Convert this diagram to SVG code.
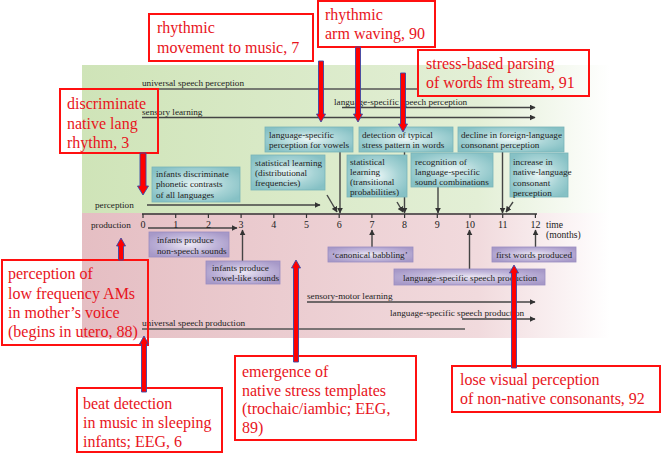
<svg xmlns="http://www.w3.org/2000/svg" width="662" height="455" viewBox="0 0 662 455">
<defs>
<linearGradient id="gGreen" x1="82" y1="0" x2="610" y2="0" gradientUnits="userSpaceOnUse">
<stop offset="0" stop-color="#cfe4b8"/><stop offset="0.75" stop-color="#e3efd6"/><stop offset="1" stop-color="#ffffff"/>
</linearGradient>
<linearGradient id="gPink" x1="82" y1="0" x2="610" y2="0" gradientUnits="userSpaceOnUse">
<stop offset="0" stop-color="#e5bec3"/><stop offset="0.75" stop-color="#f1dadd"/><stop offset="1" stop-color="#ffffff"/>
</linearGradient>
<radialGradient id="gTeal" cx="0.5" cy="0.5" r="0.6">
<stop offset="0" stop-color="#e9f5f5"/><stop offset="0.6" stop-color="#a6d3d5"/><stop offset="1" stop-color="#86c1c5"/>
</radialGradient>
<radialGradient id="gPurple" cx="0.5" cy="0.5" r="0.6">
<stop offset="0" stop-color="#ece7f4"/><stop offset="0.6" stop-color="#bdb2d8"/><stop offset="1" stop-color="#a799c8"/>
</radialGradient>
<marker id="ah" viewBox="0 0 10 10" refX="9" refY="5" markerWidth="6" markerHeight="6" markerUnits="userSpaceOnUse" orient="auto">
<path d="M0,0 L10,5 L0,10 z" fill="#333"/>
</marker>
<style>
.t{font-family:"Liberation Serif","Times New Roman",serif;font-size:9.2px;fill:#222}
.n{font-family:"Liberation Serif","Times New Roman",serif;font-size:10px;fill:#222;text-anchor:middle}
.r{font-family:"Liberation Serif","Times New Roman",serif;font-size:16px;fill:#e8141c}
.rb{fill:none;stroke:#ff1010;stroke-width:2}
.teal{fill:url(#gTeal);stroke:#79b3b8;stroke-width:0.8}
.pur{fill:url(#gPurple);stroke:#9a8cc0;stroke-width:0.8}
.ln{stroke:#555;stroke-width:1.6;fill:none}
.la{stroke:#444;stroke-width:1.4;fill:none;marker-end:url(#ah)}
.ra{fill:#ff0000;stroke:#3848a8;stroke-width:0.9}
</style>
</defs>

<g id="panel">
<rect x="82" y="65" width="528" height="148" fill="url(#gGreen)"/>
<rect x="82" y="213" width="528" height="125" fill="url(#gPink)"/>
</g>

<g id="connectors">
<!-- perception lines -->
<line class="ln" x1="142" y1="89" x2="418" y2="89"/>
<line class="la" x1="342" y1="107.5" x2="535" y2="107.5"/>
<line class="la" x1="142" y1="117.5" x2="535" y2="117.5"/>
<line class="la" x1="147" y1="205" x2="320" y2="205"/>
<!-- axis -->
<line x1="142" y1="214" x2="537" y2="214" stroke="#333" stroke-width="1.6"/>
<g stroke="#333" stroke-width="1.2">
<line x1="143" y1="214" x2="143" y2="218"/><line x1="175.7" y1="214" x2="175.7" y2="218"/>
<line x1="208.4" y1="214" x2="208.4" y2="218"/><line x1="241.1" y1="214" x2="241.1" y2="218"/>
<line x1="273.8" y1="214" x2="273.8" y2="218"/><line x1="306.5" y1="214" x2="306.5" y2="218"/>
<line x1="339.2" y1="214" x2="339.2" y2="218"/><line x1="371.9" y1="214" x2="371.9" y2="218"/>
<line x1="404.6" y1="214" x2="404.6" y2="218"/><line x1="437.3" y1="214" x2="437.3" y2="218"/>
<line x1="470" y1="214" x2="470" y2="218"/><line x1="502.7" y1="214" x2="502.7" y2="218"/>
<line x1="535.4" y1="214" x2="535.4" y2="218"/>
</g>
<!-- box to axis arrows -->
<line class="la" x1="340" y1="152" x2="340" y2="213"/>
<line class="la" x1="327" y1="195" x2="337" y2="212"/>
<line class="la" x1="404.5" y1="152" x2="404.5" y2="213"/>
<line class="la" x1="397" y1="202" x2="403" y2="212"/>
<line class="la" x1="438" y1="187" x2="438" y2="213"/>
<line class="la" x1="502.5" y1="152" x2="502.5" y2="213"/>
<line class="la" x1="513" y1="202" x2="506" y2="212"/>
<!-- production -->
<line class="la" x1="148" y1="228" x2="237" y2="228"/>
<line class="la" x1="242.5" y1="261" x2="242.5" y2="230"/>
<line class="la" x1="372" y1="247" x2="372" y2="230"/>
<line class="la" x1="469.5" y1="269" x2="469.5" y2="230"/>
<line class="la" x1="535.5" y1="247" x2="535.5" y2="230"/>
<line class="la" x1="307" y1="302" x2="535" y2="302"/>
<line class="la" x1="462" y1="319" x2="535" y2="319"/>
<line class="ln" x1="142" y1="329" x2="465" y2="329"/>
</g>

<g id="labels">
<text class="t" x="142" y="85.5">universal speech perception</text>
<text class="t" x="334" y="104.5">language-specific speech perception</text>
<text class="t" x="142" y="114.5">sensory learning</text>
<text class="t" x="95" y="207.5">perception</text>
<text class="t" x="91" y="227.5">production</text>
<text class="t" x="307" y="298.5">sensory-motor learning</text>
<text class="t" x="390" y="316">language-specific speech production</text>
<text class="t" x="142" y="325.5">universal speech production</text>
<text class="t" x="546" y="227.5" style="font-size:9.6px">time</text>
<text class="t" x="546" y="237.5" style="font-size:9.6px">(months)</text>
<text class="n" x="143" y="228">0</text><text class="n" x="175.7" y="228">1</text>
<text class="n" x="208.4" y="228">2</text><text class="n" x="241.1" y="228">3</text>
<text class="n" x="273.8" y="228">4</text><text class="n" x="306.5" y="228">5</text>
<text class="n" x="339.2" y="228">6</text><text class="n" x="371.9" y="228">7</text>
<text class="n" x="404.6" y="228">8</text><text class="n" x="437.3" y="228">9</text>
<text class="n" x="470" y="228">10</text><text class="n" x="502.7" y="228">11</text>
<text class="n" x="535.4" y="228">12</text>
</g>

<g id="vowels"><rect class="teal" x="265" y="127" width="88" height="25"/>
<text class="t" x="269" y="137.5">language-specific</text><text class="t" x="269" y="148">perception for vowels</text></g>
<g id="stress-detection"><rect class="teal" x="359" y="127" width="94" height="25"/>
<text class="t" x="362" y="137.5">detection of typical</text><text class="t" x="362" y="148">stress pattern in words</text></g>
<g id="decline"><rect class="teal" x="458" y="127" width="106" height="25"/>
<text class="t" x="461" y="137.5">decline in foreign-language</text><text class="t" x="461" y="148">consonant perception</text></g>
<g id="stat-dist"><rect class="teal" x="251" y="155" width="74" height="35"/>
<text class="t" x="255" y="165.5">statistical learning</text><text class="t" x="255" y="175.5">(distributional</text><text class="t" x="255" y="185.5">frequencies)</text></g>
<g id="stat-trans"><rect class="teal" x="347" y="155" width="60" height="42"/>
<text class="t" x="350" y="164.5">statistical</text><text class="t" x="350" y="174.5">learning</text><text class="t" x="350" y="185">(transitional</text><text class="t" x="350" y="195">probabilities)</text></g>
<g id="recognition"><rect class="teal" x="411" y="153" width="82" height="34"/>
<text class="t" x="415" y="164.5">recognition of</text><text class="t" x="415" y="174.5">language-specific</text><text class="t" x="415" y="184.5">sound combinations</text></g>
<g id="increase"><rect class="teal" x="510" y="153" width="58" height="44"/>
<text class="t" x="513" y="164.5">increase in</text><text class="t" x="513" y="175">native-language</text><text class="t" x="513" y="185.5">consonant</text><text class="t" x="513" y="196">perception</text></g>
<g id="discriminate-all"><rect class="teal" x="152" y="167" width="88" height="35"/>
<text class="t" x="156" y="176.5">infants discriminate</text><text class="t" x="156" y="187">phonetic contrasts</text><text class="t" x="156" y="197.5">of all languages</text></g>

<g id="non-speech"><rect class="pur" x="149" y="232" width="80" height="25"/>
<text class="t" x="157" y="243">infants produce</text><text class="t" x="157" y="253.5">non-speech sounds</text></g>
<g id="vowel-like"><rect class="pur" x="206" y="261" width="74" height="23"/>
<text class="t" x="212" y="271">infants produce</text><text class="t" x="212" y="281">vowel-like sounds</text></g>
<g id="babbling"><rect class="pur" x="328" y="247" width="85" height="15"/>
<text class="t" x="332" y="258">‘canonical babbling’</text></g>
<g id="first-words"><rect class="pur" x="492" y="247" width="84" height="15"/>
<text class="t" x="496" y="258">first words produced</text></g>
<g id="ls-production"><rect class="pur" x="394" y="269" width="151" height="16"/>
<text class="t" x="403" y="280.5">language-specific speech production</text></g>

<g id="callout-movement"><rect class="rb" x="149" y="14" width="164" height="47"/>
<text class="r" x="157" y="33">rhythmic</text><text class="r" x="157" y="52.5">movement to music, 7</text></g>
<g id="callout-arm"><rect class="rb" x="318" y="1" width="117" height="46"/>
<text class="r" x="325" y="20">rhythmic</text><text class="r" x="325" y="39">arm waving, 90</text></g>
<g id="callout-parsing"><rect class="rb" x="418" y="50" width="171" height="46"/>
<text class="r" x="426" y="69">stress-based parsing</text><text class="r" x="426" y="88">of words fm stream, 91</text></g>
<g id="callout-rhythm"><rect class="rb" x="60" y="89" width="98" height="64"/>
<text class="r" x="67" y="108.5">discriminate</text><text class="r" x="67" y="128.5">native lang</text><text class="r" x="67" y="148">rhythm, 3</text></g>
<g id="callout-AMs"><rect class="rb" x="2" y="260" width="146" height="85"/>
<text class="r" x="8" y="279">perception of</text><text class="r" x="8" y="298.5">low frequency AMs</text><text class="r" x="8" y="317.5">in mother’s voice</text><text class="r" x="8" y="336.5">(begins in utero, 88)</text></g>
<g id="callout-beat"><rect class="rb" x="77" y="388" width="145" height="64"/>
<text class="r" x="83" y="408.5">beat detection</text><text class="r" x="83" y="427.5">in music in sleeping</text><text class="r" x="83" y="446.5">infants; EEG, 6</text></g>
<g id="callout-templates"><rect class="rb" x="235" y="356" width="181" height="84"/>
<text class="r" x="242" y="376.5">emergence of</text><text class="r" x="242" y="395.5">native stress templates</text><text class="r" x="242" y="414">(trochaic/iambic; EEG,</text><text class="r" x="242" y="433">89)</text></g>
<g id="callout-visual"><rect class="rb" x="452" y="366" width="208" height="46"/>
<text class="r" x="460" y="385">lose visual perception</text><text class="r" x="460" y="404">of non-native consonants, 92</text></g>

<g id="red-arrows">
<polygon class="ra" points="318.5,61 323.5,61 323.5,114 325.5,114 321,122 316.5,114 318.5,114"/>
<polygon class="ra" points="355.5,47 360.5,47 360.5,114 362.5,114 358,122 353.5,114 355.5,114"/>
<polygon class="ra" points="400.5,73 405.5,73 405.5,124 407.5,124 403,132 398.5,124 400.5,124"/>
<polygon class="ra" points="140,153 146,153 146,186 148.5,186 143,195 137.5,186 140,186"/>
<polygon class="ra" points="118.5,260 123.5,260 123.5,246 125.5,246 121,238 116.5,246 118.5,246"/>
<polygon class="ra" points="141.5,392 146.5,392 146.5,344 148.5,344 144,336 139.5,344 141.5,344"/>
<polygon class="ra" points="293.5,362 298.5,362 298.5,268 300.5,268 296,260 291.5,268 293.5,268"/>
<polygon class="ra" points="511.5,368 516.5,368 516.5,273 518.5,273 514,265 509.5,273 511.5,273"/>
</g>
</svg>
